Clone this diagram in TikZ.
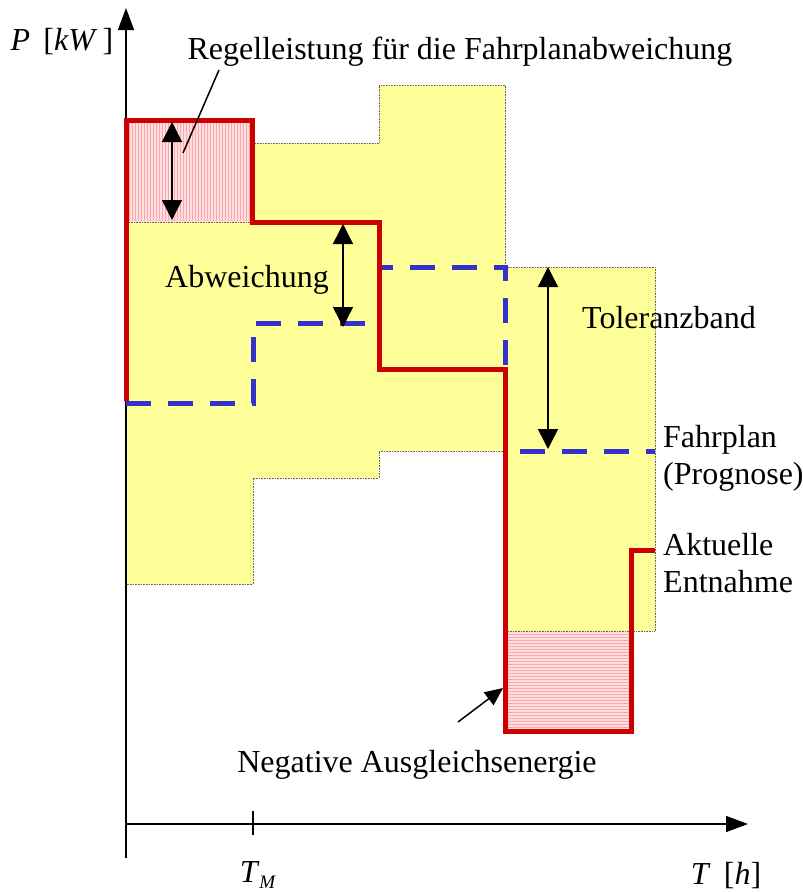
\documentclass[tikz,border=0pt]{standalone}
\usepackage{fontspec}
\setmainfont{Liberation Serif}
\usetikzlibrary{arrows.meta,positioning}
\definecolor{band}{RGB}{255,255,153}
\definecolor{rose}{RGB}{255,222,226}
\definecolor{ist}{RGB}{204,0,0}
\definecolor{plan}{RGB}{51,51,204}

\begin{document}
\begin{tikzpicture}[x=1pt,y=-1pt,
  lbl/.style={font=\fontsize{32}{37}\selectfont, inner sep=0pt, align=left},
  dbl/.style={line width=1.5pt,{Triangle[length=20pt,width=20pt]}-{Triangle[length=20pt,width=20pt]}},
  rim/.style={draw=black!60, densely dotted, line width=0.6pt},
  hatch/.style={red!35, line width=0.6pt}]
\useasboundingbox (0,0) rectangle (803,892);
% Toleranzband
\filldraw[rim, fill=band] (126,222) -| (253,143) -| (379,85) -| (505,267) -| (655,631)
  -| (505,451) -| (379,478) -| (253,584) -| (126,222) -- cycle;
\fill[rose] (126,120) rectangle (252,222);
\fill[rose] (505,631) rectangle (631,731);
\foreach \x in {129,132,...,250} \draw[hatch] (\x,122) -- (\x,221);
\foreach \y in {634,637,...,730} \draw[hatch] (506,\y) -- (630,\y);
\draw[rim] (126,222) -- (252,222);
\draw[rim] (505,631) -- (631,631);
% axes
\draw[line width=1.5pt, -{Triangle[length=22pt,width=16pt]}] (126,858) -- (126,8);
\draw[line width=1.5pt, -{Triangle[length=22pt,width=16pt]}] (126,824) -- (748,824);
\draw[line width=1.5pt] (253,811) -- (253,835);
% Fahrplan
\draw[plan, line width=5pt, dash pattern=on 25pt off 17pt] (126,403) -- (253,403) -- (253,323)
  -- (379,323) -- (379,267) -- (505,267) -- (505,451) -- (655,451);
% Entnahme
\draw[ist, line width=5pt] (126,401) -- (126,120) -- (252,120) -- (252,222) -- (379,222)
  -- (379,369) -- (505,369) -- (505,731) -- (631,731) -- (631,550) -- (655,550);
% arrows
\coordinate (r1) at (172,122);
\coordinate (r2) at (172,220);
\coordinate (a1) at (343,224);
\coordinate (a2) at (343,327);
\coordinate (t1) at (548,267);
\coordinate (t2) at (548,449);
\draw[dbl] (r1) -- (r2);
\draw[dbl] (a1) -- (a2);
\draw[dbl] (t1) -- (t2);
% labels
\node[lbl] (pkw) at (62,42) {\textit{P}\, [\textit{kW}\,]};
\node[lbl] (regel) at (460,52) {Regelleistung für die Fahrplanabweichung};
\node[lbl] (abw) at (247,280) {Abweichung};
\node[lbl] (tol) at (669,318) {Toleranzband};
\node[lbl, anchor=west] (fpl) at (663,458) {Fahrplan\\(Prognose)};
\node[lbl, anchor=west] (akt) at (663,563) {Aktuelle\\Entnahme};
\node[lbl] (neg) at (417,765) {Negative Ausgleichsenergie};
\node[lbl] (tm) at (258,875) {\textit{T}\raisebox{-0.35ex}{\fontsize{19}{19}\selectfont\textit{M}}};
\node[lbl] (th) at (726,876) {\textit{T}\, [\textit{h}]};
\coordinate (rz) at (183,153);
\coordinate (nz) at (503,688);
\draw[line width=1.5pt] (219,70) -- (rz);
\draw[line width=1.5pt, -{Triangle[length=18pt,width=16pt]}] (458,722) -- (nz);
\end{tikzpicture}
\end{document}
